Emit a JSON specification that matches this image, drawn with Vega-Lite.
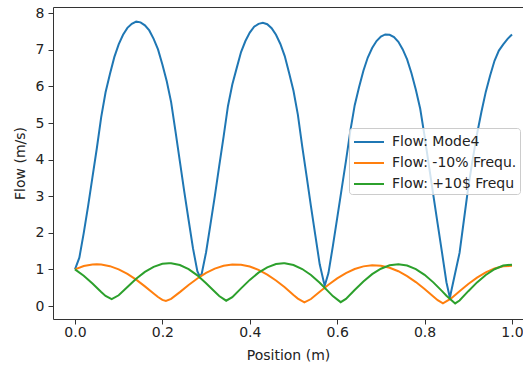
{
  "$schema": "https://vega.github.io/schema/vega-lite/v6.json",
  "width": 470,
  "height": 312,
  "autosize": {"type": "none"},
  "padding": {"left": 53, "top": 7, "right": 0, "bottom": 48},
  "background": "white",
  "config": {
    "font": "DejaVu Sans",
    "view": {"stroke": "#333333", "strokeWidth": 1}
  },
  "datasets": {
    "flow": [
      {"series": "Flow: Mode4", "x": 0.0, "y": 1.0},
      {"series": "Flow: Mode4", "x": 0.01, "y": 1.32},
      {"series": "Flow: Mode4", "x": 0.02, "y": 1.99},
      {"series": "Flow: Mode4", "x": 0.03, "y": 2.73},
      {"series": "Flow: Mode4", "x": 0.04, "y": 3.52},
      {"series": "Flow: Mode4", "x": 0.05, "y": 4.31},
      {"series": "Flow: Mode4", "x": 0.06, "y": 5.16},
      {"series": "Flow: Mode4", "x": 0.07, "y": 5.84},
      {"series": "Flow: Mode4", "x": 0.08, "y": 6.34},
      {"series": "Flow: Mode4", "x": 0.09, "y": 6.8},
      {"series": "Flow: Mode4", "x": 0.1, "y": 7.15},
      {"series": "Flow: Mode4", "x": 0.11, "y": 7.41},
      {"series": "Flow: Mode4", "x": 0.12, "y": 7.6},
      {"series": "Flow: Mode4", "x": 0.13, "y": 7.71},
      {"series": "Flow: Mode4", "x": 0.14, "y": 7.77},
      {"series": "Flow: Mode4", "x": 0.15, "y": 7.75},
      {"series": "Flow: Mode4", "x": 0.16, "y": 7.67},
      {"series": "Flow: Mode4", "x": 0.17, "y": 7.53},
      {"series": "Flow: Mode4", "x": 0.18, "y": 7.3},
      {"series": "Flow: Mode4", "x": 0.19, "y": 7.01},
      {"series": "Flow: Mode4", "x": 0.2, "y": 6.6},
      {"series": "Flow: Mode4", "x": 0.21, "y": 6.14},
      {"series": "Flow: Mode4", "x": 0.22, "y": 5.57},
      {"series": "Flow: Mode4", "x": 0.23, "y": 4.77},
      {"series": "Flow: Mode4", "x": 0.24, "y": 3.95},
      {"series": "Flow: Mode4", "x": 0.25, "y": 3.13},
      {"series": "Flow: Mode4", "x": 0.26, "y": 2.35},
      {"series": "Flow: Mode4", "x": 0.27, "y": 1.58},
      {"series": "Flow: Mode4", "x": 0.28, "y": 0.95},
      {"series": "Flow: Mode4", "x": 0.2857, "y": 0.8},
      {"series": "Flow: Mode4", "x": 0.29, "y": 0.88},
      {"series": "Flow: Mode4", "x": 0.3, "y": 1.47},
      {"series": "Flow: Mode4", "x": 0.31, "y": 2.23},
      {"series": "Flow: Mode4", "x": 0.32, "y": 3.0},
      {"series": "Flow: Mode4", "x": 0.33, "y": 3.82},
      {"series": "Flow: Mode4", "x": 0.34, "y": 4.62},
      {"series": "Flow: Mode4", "x": 0.35, "y": 5.46},
      {"series": "Flow: Mode4", "x": 0.36, "y": 6.05},
      {"series": "Flow: Mode4", "x": 0.37, "y": 6.5},
      {"series": "Flow: Mode4", "x": 0.38, "y": 6.94},
      {"series": "Flow: Mode4", "x": 0.39, "y": 7.24},
      {"series": "Flow: Mode4", "x": 0.4, "y": 7.47},
      {"series": "Flow: Mode4", "x": 0.41, "y": 7.63},
      {"series": "Flow: Mode4", "x": 0.42, "y": 7.71},
      {"series": "Flow: Mode4", "x": 0.43, "y": 7.74},
      {"series": "Flow: Mode4", "x": 0.44, "y": 7.7},
      {"series": "Flow: Mode4", "x": 0.45, "y": 7.59},
      {"series": "Flow: Mode4", "x": 0.46, "y": 7.41},
      {"series": "Flow: Mode4", "x": 0.47, "y": 7.16},
      {"series": "Flow: Mode4", "x": 0.48, "y": 6.83},
      {"series": "Flow: Mode4", "x": 0.49, "y": 6.37},
      {"series": "Flow: Mode4", "x": 0.5, "y": 5.88},
      {"series": "Flow: Mode4", "x": 0.51, "y": 5.23},
      {"series": "Flow: Mode4", "x": 0.52, "y": 4.36},
      {"series": "Flow: Mode4", "x": 0.53, "y": 3.55},
      {"series": "Flow: Mode4", "x": 0.54, "y": 2.72},
      {"series": "Flow: Mode4", "x": 0.55, "y": 1.93},
      {"series": "Flow: Mode4", "x": 0.56, "y": 1.14},
      {"series": "Flow: Mode4", "x": 0.5714, "y": 0.55},
      {"series": "Flow: Mode4", "x": 0.58, "y": 0.9},
      {"series": "Flow: Mode4", "x": 0.59, "y": 1.63},
      {"series": "Flow: Mode4", "x": 0.6, "y": 2.4},
      {"series": "Flow: Mode4", "x": 0.61, "y": 3.18},
      {"series": "Flow: Mode4", "x": 0.62, "y": 3.96},
      {"series": "Flow: Mode4", "x": 0.63, "y": 4.78},
      {"series": "Flow: Mode4", "x": 0.64, "y": 5.48},
      {"series": "Flow: Mode4", "x": 0.65, "y": 5.98},
      {"series": "Flow: Mode4", "x": 0.66, "y": 6.43},
      {"series": "Flow: Mode4", "x": 0.67, "y": 6.79},
      {"series": "Flow: Mode4", "x": 0.68, "y": 7.05},
      {"series": "Flow: Mode4", "x": 0.69, "y": 7.24},
      {"series": "Flow: Mode4", "x": 0.7, "y": 7.36},
      {"series": "Flow: Mode4", "x": 0.71, "y": 7.42},
      {"series": "Flow: Mode4", "x": 0.72, "y": 7.41},
      {"series": "Flow: Mode4", "x": 0.73, "y": 7.35},
      {"series": "Flow: Mode4", "x": 0.74, "y": 7.22},
      {"series": "Flow: Mode4", "x": 0.75, "y": 7.01},
      {"series": "Flow: Mode4", "x": 0.76, "y": 6.74},
      {"series": "Flow: Mode4", "x": 0.77, "y": 6.36},
      {"series": "Flow: Mode4", "x": 0.78, "y": 5.91},
      {"series": "Flow: Mode4", "x": 0.79, "y": 5.39},
      {"series": "Flow: Mode4", "x": 0.8, "y": 4.64},
      {"series": "Flow: Mode4", "x": 0.81, "y": 3.83},
      {"series": "Flow: Mode4", "x": 0.82, "y": 3.03},
      {"series": "Flow: Mode4", "x": 0.83, "y": 2.24},
      {"series": "Flow: Mode4", "x": 0.84, "y": 1.45},
      {"series": "Flow: Mode4", "x": 0.85, "y": 0.65},
      {"series": "Flow: Mode4", "x": 0.858, "y": 0.22},
      {"series": "Flow: Mode4", "x": 0.86, "y": 0.35},
      {"series": "Flow: Mode4", "x": 0.87, "y": 0.9},
      {"series": "Flow: Mode4", "x": 0.88, "y": 1.45},
      {"series": "Flow: Mode4", "x": 0.89, "y": 2.35},
      {"series": "Flow: Mode4", "x": 0.9, "y": 3.25},
      {"series": "Flow: Mode4", "x": 0.91, "y": 4.0},
      {"series": "Flow: Mode4", "x": 0.92, "y": 4.7},
      {"series": "Flow: Mode4", "x": 0.93, "y": 5.3},
      {"series": "Flow: Mode4", "x": 0.94, "y": 5.85},
      {"series": "Flow: Mode4", "x": 0.95, "y": 6.3},
      {"series": "Flow: Mode4", "x": 0.96, "y": 6.7},
      {"series": "Flow: Mode4", "x": 0.97, "y": 6.98},
      {"series": "Flow: Mode4", "x": 0.98, "y": 7.15},
      {"series": "Flow: Mode4", "x": 0.99, "y": 7.3},
      {"series": "Flow: Mode4", "x": 1.0, "y": 7.42},

      {"series": "Flow: -10% Frequ.", "x": 0.0, "y": 1.0},
      {"series": "Flow: -10% Frequ.", "x": 0.02, "y": 1.094},
      {"series": "Flow: -10% Frequ.", "x": 0.04, "y": 1.135},
      {"series": "Flow: -10% Frequ.", "x": 0.05, "y": 1.14},
      {"series": "Flow: -10% Frequ.", "x": 0.06, "y": 1.134},
      {"series": "Flow: -10% Frequ.", "x": 0.08, "y": 1.089},
      {"series": "Flow: -10% Frequ.", "x": 0.1, "y": 1.002},
      {"series": "Flow: -10% Frequ.", "x": 0.12, "y": 0.877},
      {"series": "Flow: -10% Frequ.", "x": 0.14, "y": 0.72},
      {"series": "Flow: -10% Frequ.", "x": 0.16, "y": 0.537},
      {"series": "Flow: -10% Frequ.", "x": 0.18, "y": 0.341},
      {"series": "Flow: -10% Frequ.", "x": 0.19, "y": 0.246},
      {"series": "Flow: -10% Frequ.", "x": 0.2, "y": 0.167},
      {"series": "Flow: -10% Frequ.", "x": 0.208, "y": 0.14},
      {"series": "Flow: -10% Frequ.", "x": 0.22, "y": 0.194},
      {"series": "Flow: -10% Frequ.", "x": 0.24, "y": 0.379},
      {"series": "Flow: -10% Frequ.", "x": 0.26, "y": 0.574},
      {"series": "Flow: -10% Frequ.", "x": 0.28, "y": 0.752},
      {"series": "Flow: -10% Frequ.", "x": 0.3, "y": 0.904},
      {"series": "Flow: -10% Frequ.", "x": 0.32, "y": 1.022},
      {"series": "Flow: -10% Frequ.", "x": 0.34, "y": 1.101},
      {"series": "Flow: -10% Frequ.", "x": 0.36, "y": 1.137},
      {"series": "Flow: -10% Frequ.", "x": 0.38, "y": 1.13},
      {"series": "Flow: -10% Frequ.", "x": 0.4, "y": 1.079},
      {"series": "Flow: -10% Frequ.", "x": 0.42, "y": 0.987},
      {"series": "Flow: -10% Frequ.", "x": 0.44, "y": 0.858},
      {"series": "Flow: -10% Frequ.", "x": 0.46, "y": 0.698},
      {"series": "Flow: -10% Frequ.", "x": 0.48, "y": 0.514},
      {"series": "Flow: -10% Frequ.", "x": 0.5, "y": 0.3},
      {"series": "Flow: -10% Frequ.", "x": 0.51, "y": 0.202},
      {"series": "Flow: -10% Frequ.", "x": 0.525, "y": 0.1},
      {"series": "Flow: -10% Frequ.", "x": 0.54, "y": 0.191},
      {"series": "Flow: -10% Frequ.", "x": 0.56, "y": 0.387},
      {"series": "Flow: -10% Frequ.", "x": 0.58, "y": 0.582},
      {"series": "Flow: -10% Frequ.", "x": 0.6, "y": 0.753},
      {"series": "Flow: -10% Frequ.", "x": 0.62, "y": 0.899},
      {"series": "Flow: -10% Frequ.", "x": 0.64, "y": 1.011},
      {"series": "Flow: -10% Frequ.", "x": 0.66, "y": 1.083},
      {"series": "Flow: -10% Frequ.", "x": 0.68, "y": 1.114},
      {"series": "Flow: -10% Frequ.", "x": 0.7, "y": 1.101},
      {"series": "Flow: -10% Frequ.", "x": 0.72, "y": 1.046},
      {"series": "Flow: -10% Frequ.", "x": 0.74, "y": 0.95},
      {"series": "Flow: -10% Frequ.", "x": 0.76, "y": 0.818},
      {"series": "Flow: -10% Frequ.", "x": 0.78, "y": 0.654},
      {"series": "Flow: -10% Frequ.", "x": 0.8, "y": 0.464},
      {"series": "Flow: -10% Frequ.", "x": 0.82, "y": 0.26},
      {"series": "Flow: -10% Frequ.", "x": 0.83, "y": 0.158},
      {"series": "Flow: -10% Frequ.", "x": 0.842, "y": 0.07},
      {"series": "Flow: -10% Frequ.", "x": 0.86, "y": 0.199},
      {"series": "Flow: -10% Frequ.", "x": 0.88, "y": 0.406},
      {"series": "Flow: -10% Frequ.", "x": 0.9, "y": 0.602},
      {"series": "Flow: -10% Frequ.", "x": 0.92, "y": 0.774},
      {"series": "Flow: -10% Frequ.", "x": 0.94, "y": 0.919},
      {"series": "Flow: -10% Frequ.", "x": 0.96, "y": 1.027},
      {"series": "Flow: -10% Frequ.", "x": 0.98, "y": 1.085},
      {"series": "Flow: -10% Frequ.", "x": 1.0, "y": 1.1},

      {"series": "Flow: +10$ Frequ", "x": 0.0, "y": 1.0},
      {"series": "Flow: +10$ Frequ", "x": 0.02, "y": 0.826},
      {"series": "Flow: +10$ Frequ", "x": 0.04, "y": 0.614},
      {"series": "Flow: +10$ Frequ", "x": 0.06, "y": 0.384},
      {"series": "Flow: +10$ Frequ", "x": 0.07, "y": 0.277},
      {"series": "Flow: +10$ Frequ", "x": 0.084, "y": 0.19},
      {"series": "Flow: +10$ Frequ", "x": 0.1, "y": 0.293},
      {"series": "Flow: +10$ Frequ", "x": 0.12, "y": 0.52},
      {"series": "Flow: +10$ Frequ", "x": 0.14, "y": 0.743},
      {"series": "Flow: +10$ Frequ", "x": 0.16, "y": 0.931},
      {"series": "Flow: +10$ Frequ", "x": 0.18, "y": 1.071},
      {"series": "Flow: +10$ Frequ", "x": 0.2, "y": 1.152},
      {"series": "Flow: +10$ Frequ", "x": 0.215, "y": 1.17},
      {"series": "Flow: +10$ Frequ", "x": 0.22, "y": 1.168},
      {"series": "Flow: +10$ Frequ", "x": 0.24, "y": 1.119},
      {"series": "Flow: +10$ Frequ", "x": 0.26, "y": 1.008},
      {"series": "Flow: +10$ Frequ", "x": 0.28, "y": 0.837},
      {"series": "Flow: +10$ Frequ", "x": 0.3, "y": 0.624},
      {"series": "Flow: +10$ Frequ", "x": 0.32, "y": 0.39},
      {"series": "Flow: +10$ Frequ", "x": 0.33, "y": 0.272},
      {"series": "Flow: +10$ Frequ", "x": 0.346, "y": 0.145},
      {"series": "Flow: +10$ Frequ", "x": 0.36, "y": 0.243},
      {"series": "Flow: +10$ Frequ", "x": 0.38, "y": 0.482},
      {"series": "Flow: +10$ Frequ", "x": 0.4, "y": 0.714},
      {"series": "Flow: +10$ Frequ", "x": 0.42, "y": 0.911},
      {"series": "Flow: +10$ Frequ", "x": 0.44, "y": 1.058},
      {"series": "Flow: +10$ Frequ", "x": 0.46, "y": 1.146},
      {"series": "Flow: +10$ Frequ", "x": 0.477, "y": 1.17},
      {"series": "Flow: +10$ Frequ", "x": 0.48, "y": 1.169},
      {"series": "Flow: +10$ Frequ", "x": 0.5, "y": 1.121},
      {"series": "Flow: +10$ Frequ", "x": 0.52, "y": 1.011},
      {"series": "Flow: +10$ Frequ", "x": 0.54, "y": 0.849},
      {"series": "Flow: +10$ Frequ", "x": 0.56, "y": 0.637},
      {"series": "Flow: +10$ Frequ", "x": 0.58, "y": 0.394},
      {"series": "Flow: +10$ Frequ", "x": 0.59, "y": 0.27},
      {"series": "Flow: +10$ Frequ", "x": 0.608, "y": 0.105},
      {"series": "Flow: +10$ Frequ", "x": 0.62, "y": 0.195},
      {"series": "Flow: +10$ Frequ", "x": 0.64, "y": 0.439},
      {"series": "Flow: +10$ Frequ", "x": 0.66, "y": 0.67},
      {"series": "Flow: +10$ Frequ", "x": 0.68, "y": 0.87},
      {"series": "Flow: +10$ Frequ", "x": 0.7, "y": 1.019},
      {"series": "Flow: +10$ Frequ", "x": 0.72, "y": 1.111},
      {"series": "Flow: +10$ Frequ", "x": 0.74, "y": 1.14},
      {"series": "Flow: +10$ Frequ", "x": 0.76, "y": 1.105},
      {"series": "Flow: +10$ Frequ", "x": 0.78, "y": 1.009},
      {"series": "Flow: +10$ Frequ", "x": 0.8, "y": 0.853},
      {"series": "Flow: +10$ Frequ", "x": 0.82, "y": 0.646},
      {"series": "Flow: +10$ Frequ", "x": 0.84, "y": 0.407},
      {"series": "Flow: +10$ Frequ", "x": 0.85, "y": 0.281},
      {"series": "Flow: +10$ Frequ", "x": 0.87, "y": 0.07},
      {"series": "Flow: +10$ Frequ", "x": 0.88, "y": 0.151},
      {"series": "Flow: +10$ Frequ", "x": 0.9, "y": 0.405},
      {"series": "Flow: +10$ Frequ", "x": 0.92, "y": 0.645},
      {"series": "Flow: +10$ Frequ", "x": 0.94, "y": 0.849},
      {"series": "Flow: +10$ Frequ", "x": 0.96, "y": 1.005},
      {"series": "Flow: +10$ Frequ", "x": 0.98, "y": 1.104},
      {"series": "Flow: +10$ Frequ", "x": 1.0, "y": 1.13}
    ]
  },
  "data": {"name": "flow"},
  "encoding": {
    "x": {
      "field": "x", "type": "quantitative",
      "scale": {"domain": [-0.0503, 1.0252], "nice": false, "zero": false},
      "axis": {
        "title": "Position (m)", "values": [0, 0.2, 0.4, 0.6, 0.8, 1.0], "format": ".1f",
        "grid": false, "domain": false, "tickSize": 5, "tickColor": "#333333",
        "labelFontSize": 14, "labelColor": "#222222", "labelPadding": 1, "labelFlush": false,
        "titleFontSize": 14, "titleFontWeight": "normal", "titleColor": "#222222", "titlePadding": 9
      }
    },
    "y": {
      "field": "y", "type": "quantitative",
      "scale": {"domain": [-0.355, 8.17], "nice": false, "zero": false},
      "axis": {
        "title": "Flow (m/s)", "values": [0, 1, 2, 3, 4, 5, 6, 7, 8], "format": "d",
        "grid": false, "domain": false, "tickSize": 5, "tickColor": "#333333",
        "labelFontSize": 14, "labelColor": "#222222", "labelPadding": 4, "labelFlush": false,
        "titleFontSize": 14, "titleFontWeight": "normal", "titleColor": "#222222", "titlePadding": 8
      }
    },
    "color": {
      "field": "series", "type": "nominal",
      "scale": {
        "domain": ["Flow: Mode4", "Flow: -10% Frequ.", "Flow: +10$ Frequ"],
        "range": ["#1f77b4", "#ff7f0e", "#2ca02c"]
      },
      "legend": {
        "title": null, "orient": "none", "legendX": 296, "legendY": 121,
        "symbolType": "M-0.9,0H2.1", "symbolSize": 400, "symbolStrokeWidth": 2,
        "symbolFillColor": "transparent",
        "labelFontSize": 14, "labelColor": "#222222", "labelOffset": 18,
        "rowPadding": 3, "padding": 3,
        "fillColor": "rgba(255,255,255,0.8)", "strokeColor": "#cccccc", "cornerRadius": 3
      }
    }
  },
  "layer": [
    {"transform": [{"filter": "datum.series === 'Flow: Mode4'"}], "mark": {"type": "line", "strokeWidth": 2}},
    {"transform": [{"filter": "datum.series === 'Flow: -10% Frequ.'"}], "mark": {"type": "line", "strokeWidth": 2}},
    {"transform": [{"filter": "datum.series === 'Flow: +10$ Frequ'"}], "mark": {"type": "line", "strokeWidth": 2}}
  ]
}
